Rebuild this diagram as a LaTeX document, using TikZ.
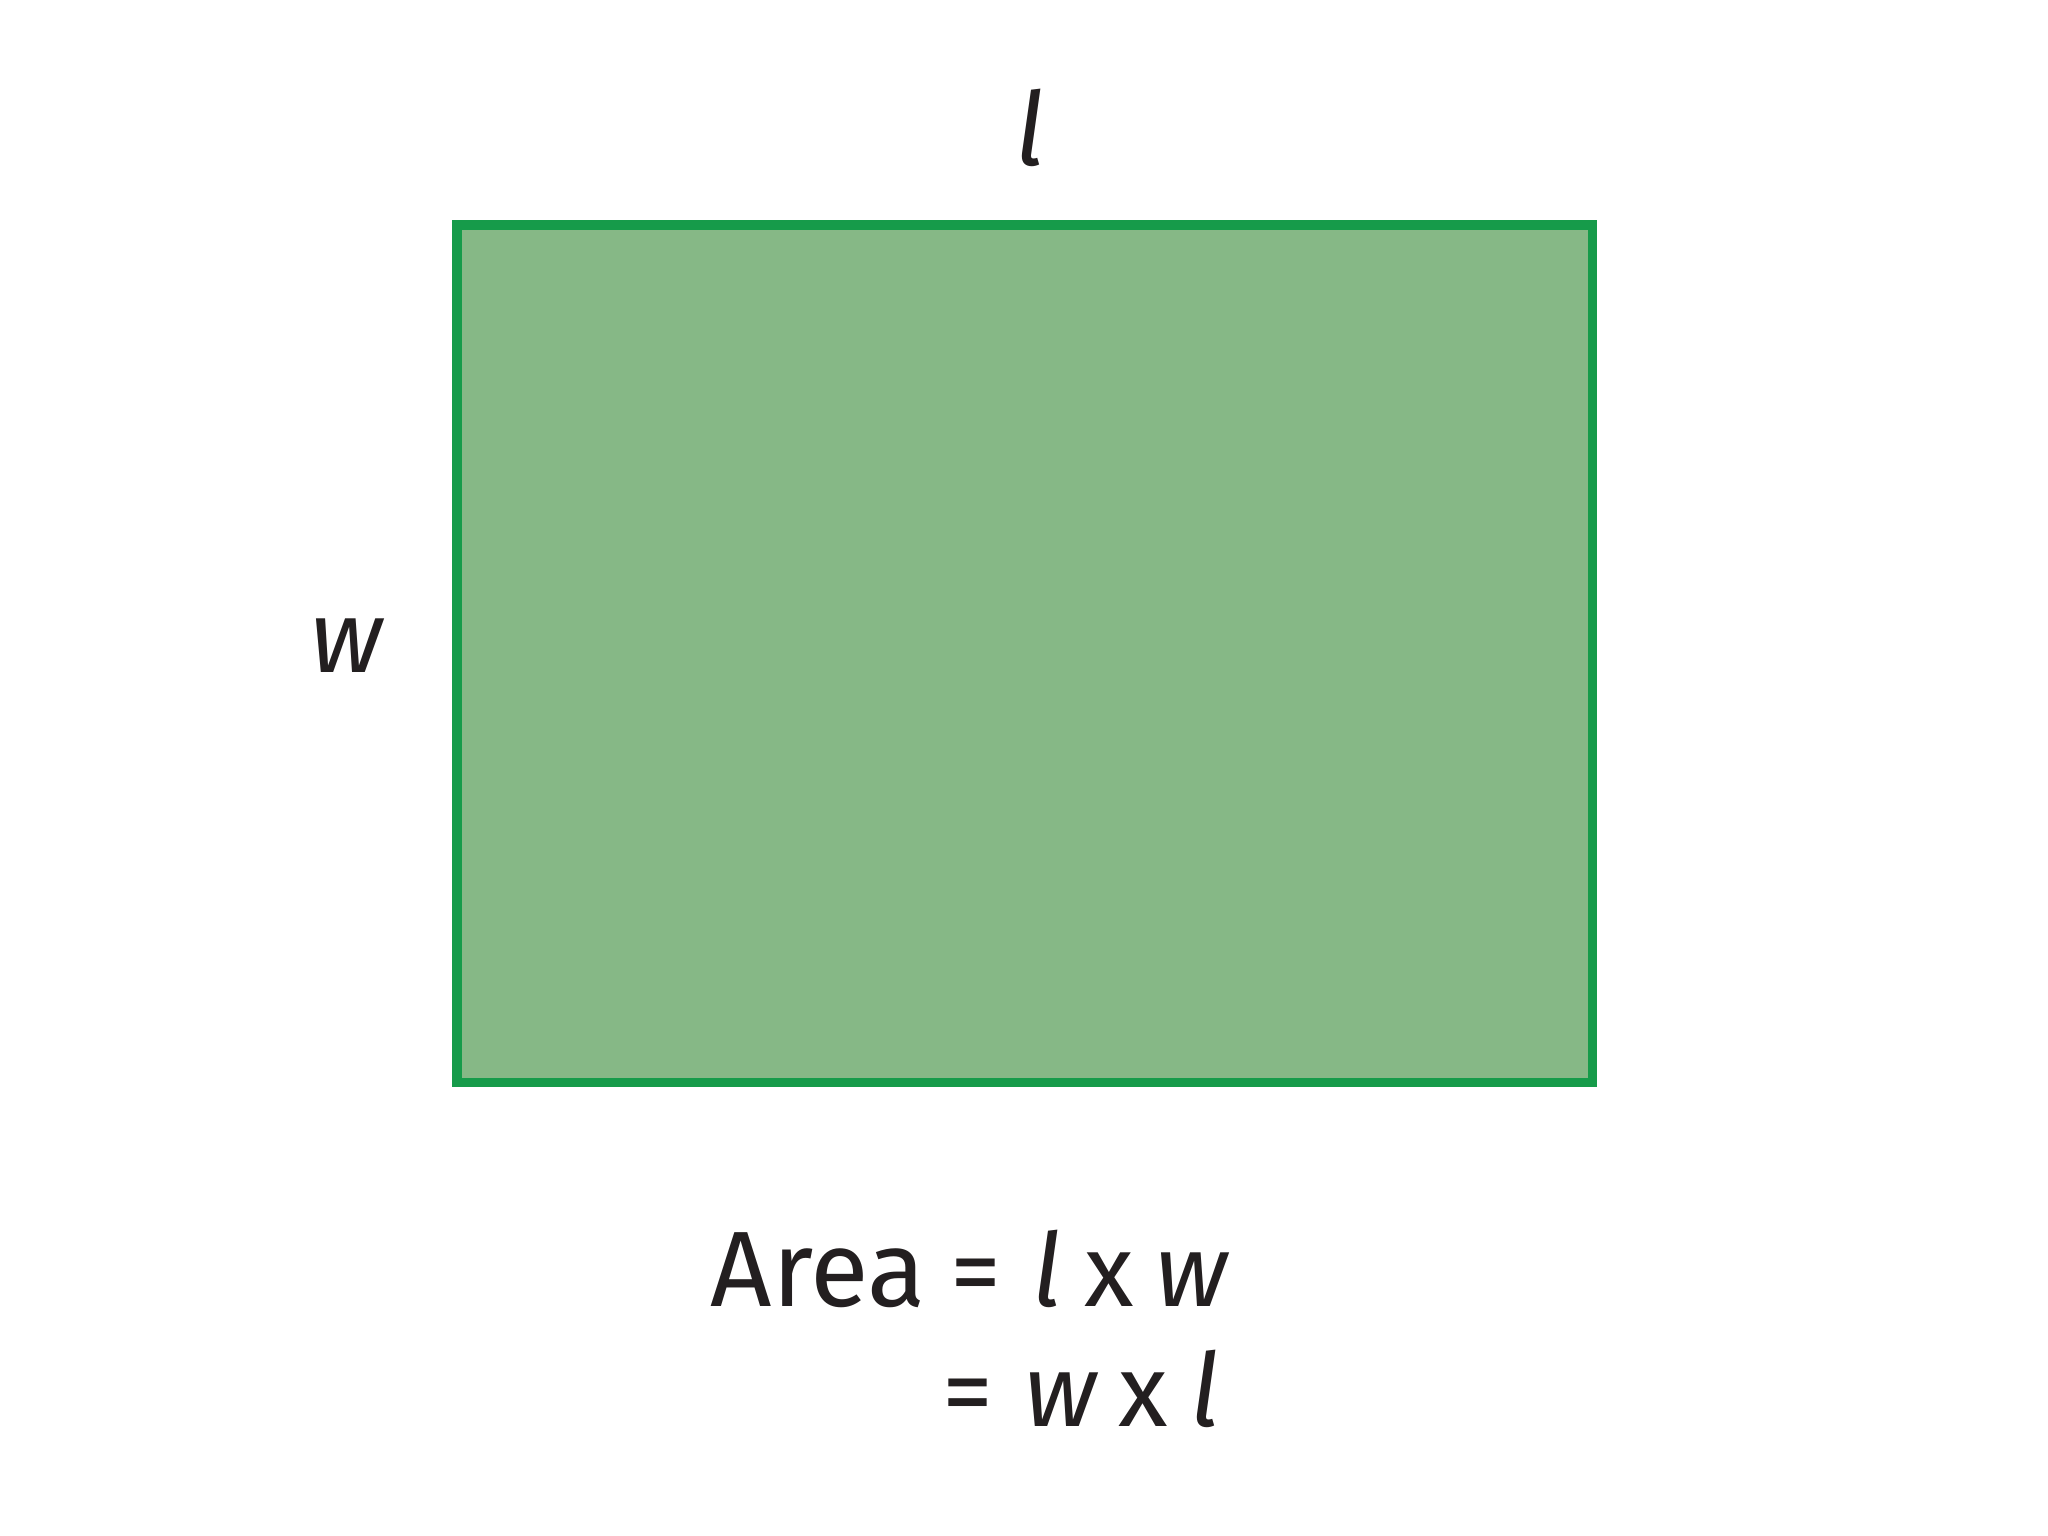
\documentclass[tikz,border=0pt]{standalone}
\usepackage{fontspec}
\setmainfont{Fira Sans}
\usepackage{tikz}
\usetikzlibrary{positioning}
\definecolor{rectfill}{HTML}{86B886}
\definecolor{rectline}{HTML}{169B4A}
\definecolor{ink}{HTML}{231F20}

\begin{document}
\begin{tikzpicture}[every node/.style={text=ink,inner sep=0pt,font=\fontsize{29}{35}\selectfont}]
\useasboundingbox (0,0) rectangle (20.48,15.36);
\node[draw=rectline,fill=rectfill,line width=2.6pt,minimum width=11.355cm,minimum height=8.575cm] (box) at (10.2475,8.8225) {};
\node[anchor=base] (len) at (10.30,13.70) {\textit{l}};
\node[anchor=base] (wid) at (3.48,8.63) {\textit{w}};
\node[anchor=base west] (area) at (7.10,2.29) {\fontsize{30.5}{35}\selectfont Area};
\node[anchor=base west] (eq1) at (9.50,2.29) {=\hspace{0.3em}\textit{l}\hspace{0.22em}x\hspace{0.22em}\textit{w}};
\node[anchor=base west] (eq2) at ([xshift=-0.08cm,yshift=-1.2cm]eq1.base west) {=\hspace{0.3em}\textit{w}\hspace{0.2em}x\hspace{0.22em}\textit{l}};
\end{tikzpicture}
\end{document}
